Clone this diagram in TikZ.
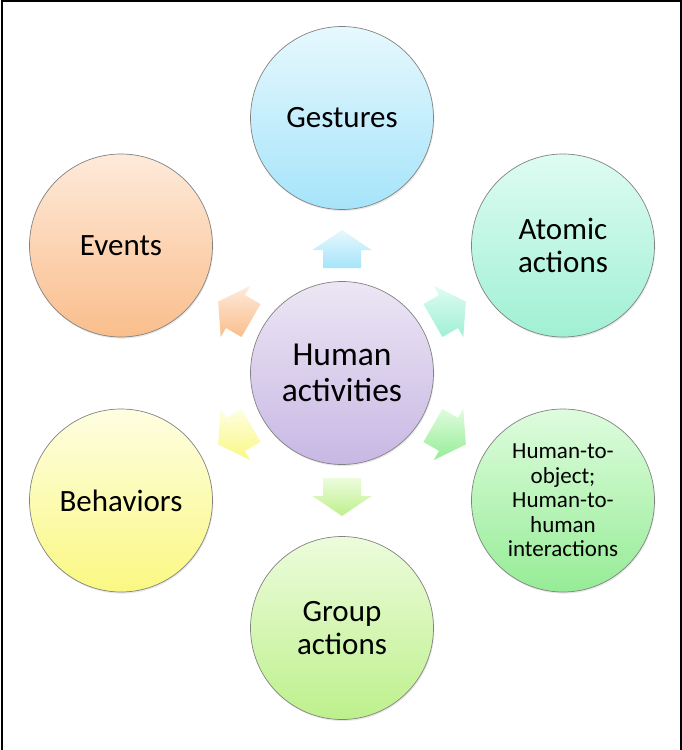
\documentclass[tikz,border=0pt]{standalone}
\usepackage{fontspec}
\setmainfont{Carlito}
\usetikzlibrary{calc,shadows}
\definecolor{gesT}{RGB}{230,248,254}\definecolor{gesB}{RGB}{166,228,250}
\definecolor{atoT}{RGB}{222,252,242}\definecolor{atoB}{RGB}{160,240,212}
\definecolor{hhT}{RGB}{222,252,222}\definecolor{hhB}{RGB}{150,236,150}
\definecolor{grpT}{RGB}{236,252,220}\definecolor{grpB}{RGB}{190,240,140}
\definecolor{behT}{RGB}{254,254,226}\definecolor{behB}{RGB}{250,248,130}
\definecolor{evtT}{RGB}{254,234,218}\definecolor{evtB}{RGB}{250,190,140}
\definecolor{cenT}{RGB}{236,230,244}\definecolor{cenB}{RGB}{200,184,228}
\definecolor{rim}{RGB}{130,130,130}
\newcommand{\blockarrow}[4]{%
  \path[top color=#3, bottom color=#4, draw=none]
    ($(#1)!105pt!(#2)!19pt!90:(#2)$) --
    ($(#1)!123pt!(#2)!19pt!90:(#2)$) --
    ($(#1)!123pt!(#2)!29.5pt!90:(#2)$) --
    ($(#1)!143pt!(#2)$) --
    ($(#1)!123pt!(#2)!29.5pt!-90:(#2)$) --
    ($(#1)!123pt!(#2)!19pt!-90:(#2)$) --
    ($(#1)!105pt!(#2)!19pt!-90:(#2)$) -- cycle;}
\begin{document}
\begin{tikzpicture}[x=1pt,y=-1pt,
  bubble/.style={circle, minimum size=183pt, inner sep=0pt, draw=rim, line width=0.7pt,
    align=center, drop shadow={shadow xshift=0.8pt, shadow yshift=-1.6pt, opacity=0.18},
    font=\fontsize{31}{33.5}\selectfont},
  smalltext/.style={font=\fontsize{23}{24.5}\selectfont},
  centertext/.style={font=\fontsize{33.5}{36}\selectfont}]
\useasboundingbox (0,0) rectangle (682,750);
\fill[white] (0,0) rectangle (682,750);
\draw[line width=1.8pt] (1.7,751) -- (1.7,0.9) -- (680.6,0.9) -- (680.6,751);

\node[bubble, centertext, top color=cenT, bottom color=cenB] (C) at (342,373) {Human\\activities};
\node[bubble, top color=gesT, bottom color=gesB] (G) at (342,118) {Gestures};
\node[bubble, top color=atoT, bottom color=atoB] (A) at (563,245.5) {Atomic\\actions};
\node[bubble, smalltext, top color=hhT, bottom color=hhB] (H) at (563,500.5) {Human-to-\\object;\\Human-to-\\human\\interactions};
\node[bubble, top color=grpT, bottom color=grpB] (P) at (342,628) {Group\\actions};
\node[bubble, top color=behT, bottom color=behB] (B) at (121,500.5) {Behaviors};
\node[bubble, top color=evtT, bottom color=evtB] (E) at (121,245.5) {Events};

\blockarrow{C}{G}{gesT}{gesB}
\blockarrow{C}{A}{atoT}{atoB}
\blockarrow{C}{H}{hhT}{hhB}
\blockarrow{C}{P}{grpT}{grpB}
\blockarrow{C}{B}{behT}{behB}
\blockarrow{C}{E}{evtT}{evtB}
\end{tikzpicture}
\end{document}
